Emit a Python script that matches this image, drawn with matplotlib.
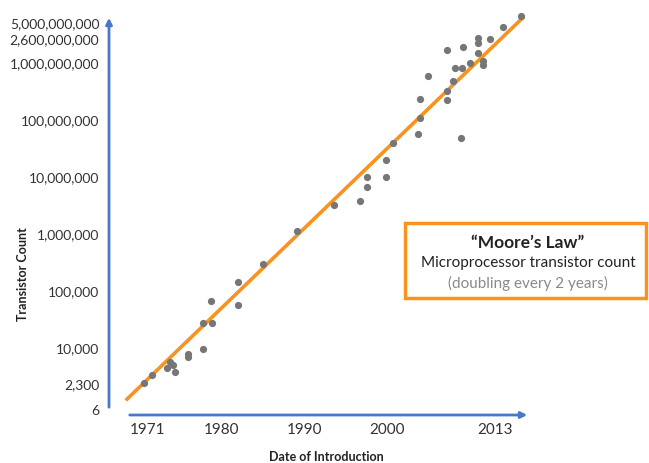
import matplotlib
matplotlib.use("Agg")
import matplotlib.pyplot as plt
from matplotlib.patches import Rectangle

plt.rcParams["font.family"] = ["Lato", "DejaVu Sans"]

# ── data ────────────────────────────────────────────────────────────────────
years = [1970.6, 1971.6, 1973.4, 1973.75, 1974.1, 1974.4, 1975.9, 1975.9,
         1977.7, 1977.7, 1978.8, 1978.7, 1982.0, 1982.0, 1985.0, 1989.1,
         1993.6, 1996.7, 1997.6, 1997.6, 1999.9, 1999.9, 2000.7, 2003.7,
         2004.0, 2004.0, 2005.0, 2007.2, 2007.2, 2008.0, 2008.2, 2009.1,
         2008.9, 2007.2, 2009.2, 2010.0, 2011.0, 2011.0, 2011.0, 2011.6,
         2011.6, 2012.4, 2014.0, 2016.2]
counts = [2400, 3400, 4500, 5700, 5000, 3800, 7900, 7000,
          9600, 27500, 27500, 67000, 144000, 57000, 300000, 1130000,
          3200000, 3800000, 6700000, 10000000, 10000000, 20000000, 40000000, 57000000,
          108000000, 233000000, 590000000, 224000000, 323000000, 483000000, 817000000, 817000000,
          48000000, 1690000000, 1910000000, 1000000000, 1500000000, 2240000000, 2750000000, 1080000000,
          920000000, 2640000000, 4280000000, 6680000000]

trend_years = [1968.55, 2016.4]
trend_counts = [1270, 6.2e9]

xtick_years = [1971, 1980, 1990, 2000, 2013]
ytick_vals = [817, 2300, 1e4, 1e5, 1e6, 1e7, 1e8, 1e9, 2.6e9, 5e9]
ytick_labels = ["6", "2,300", "10,000", "100,000", "1,000,000", "10,000,000",
                "100,000,000", "1,000,000,000", "2,600,000,000", "5,000,000,000"]

BLUE = "#4878c8"
ORANGE = "#f7931e"
GREY = "#767676"

W, H = 649, 463
fig = plt.figure(figsize=(W / 100, H / 100), dpi=100)
L, R, T, B = 109, 530, 15, 415
ax = fig.add_axes([L / W, 1 - B / H, (R - L) / W, (B - T) / H])

ax.plot(trend_years, trend_counts, color=ORANGE, lw=2.6, zorder=2, clip_on=False)
ax.plot(years, counts, "o", color=GREY, ms=5.2, mec="none", zorder=3, clip_on=False)

ax.set_yscale("log")
ax.set_xlim(1966.37, 2017.28)
ax.set_ylim(668, 6.95e9)
ax.minorticks_off()
ax.set_xticks(xtick_years)
ax.set_xticklabels([str(y) for y in xtick_years], fontsize=11, color="#333333")
ax.set_yticks(ytick_vals)
ax.set_yticklabels(ytick_labels, fontsize=10, color="#333333")
ax.tick_params(axis="both", length=0)
ax.tick_params(axis="y", pad=7)
ax.tick_params(axis="x", pad=6)
for s in ax.spines.values():
    s.set_visible(False)

# blue axis arrows
ax.annotate("", xy=(1, 0), xytext=((127 - L) / (R - L), 0),
            xycoords="axes fraction", textcoords="axes fraction",
            arrowprops=dict(arrowstyle="-|>", color=BLUE, lw=2, mutation_scale=9))
ax.annotate("", xy=(0, 1), xytext=(0, (B - 410) / (B - T)),
            xycoords="axes fraction", textcoords="axes fraction",
            arrowprops=dict(arrowstyle="-|>", color=BLUE, lw=2, mutation_scale=9))

fig.text(23 / W, 1 - 274 / H, "Transistor Count", rotation=90, fontsize=9,
         fontweight="bold", ha="center", va="center", color="#222222")
fig.text(326 / W, 1 - 457 / H, "Date of Introduction", fontsize=9,
         fontweight="bold", ha="center", va="center", color="#222222")

# annotation box
fig.patches.append(Rectangle((405 / W, 1 - 298 / H), (646 - 405) / W, (298 - 223) / H,
                             transform=fig.transFigure, fill=True, facecolor="white",
                             edgecolor=ORANGE, lw=2.5, zorder=5))
fig.text(528 / W, 1 - 243 / H, "\u201cMoore\u2019s Law\u201d", fontsize=12.5,
         fontweight="bold", ha="center", va="center", color="#222222", zorder=6)
fig.text(528 / W, 1 - 263 / H, "Microprocessor transistor count", fontsize=11,
         ha="center", va="center", color="#222222", zorder=6)
fig.text(528 / W, 1 - 283 / H, "(doubling every 2 years)", fontsize=11,
         ha="center", va="center", color="#8a8a8a", zorder=6)

fig.savefig("out.png", dpi=100)
